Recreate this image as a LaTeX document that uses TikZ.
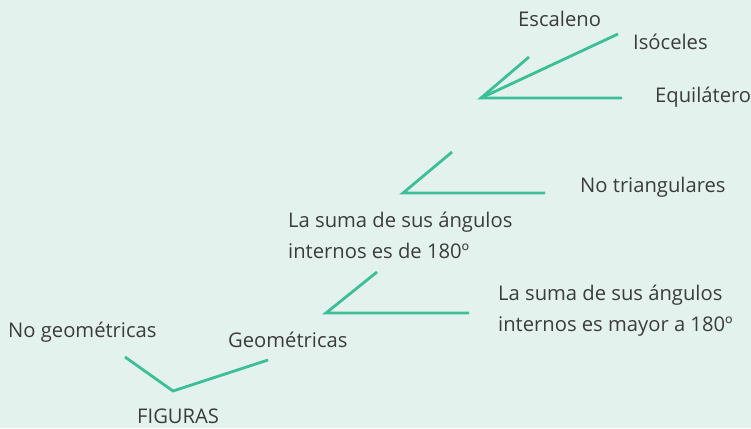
\documentclass[tikz,border=0pt]{standalone}
\usepackage{fontspec}
\setmainfont{Open Sans}
\definecolor{bgc}{RGB}{228,242,237}
\definecolor{linec}{RGB}{60,190,150}
\definecolor{txtc}{RGB}{60,60,60}
\begin{document}
\begin{tikzpicture}[x=1pt,y=-1pt,
  lbl/.style={anchor=base west,inner sep=0pt,text=txtc,font=\fontsize{20.2}{31.5}\selectfont,align=left},
  branch/.style={draw=linec,line width=2.8pt}]
\fill[bgc] (0,0) rectangle (751,428);
\useasboundingbox (0,0) rectangle (751,428);
% coordinates of branches
\coordinate (v1) at (481,98);
\coordinate (e1) at (529,57);
\coordinate (i1) at (618,34);
\coordinate (q1) at (622,98);
\coordinate (v2) at (403,193);
\coordinate (u2) at (452,152);
\coordinate (r2) at (545,193);
\coordinate (v3) at (326,313);
\coordinate (u3) at (377,272);
\coordinate (r3) at (469,313);
\coordinate (l4) at (125,357);
\coordinate (v4) at (173,391);
\coordinate (r4) at (268,360);
\draw[branch] (e1) -- (v1) -- (q1);
\draw[branch] (v1) -- (i1);
\draw[branch] (u2) -- (v2) -- (r2);
\draw[branch] (u3) -- (v3) -- (r3);
\draw[branch] (l4) -- (v4) -- (r4);
% labels
\node[lbl] (esc) at (518,27) {Escaleno};
\node[lbl] (iso) at (633,49) {Isóceles};
\node[lbl] (equ) at (655,102) {Equilátero};
\node[lbl] (notri) at (580,192) {No triangulares};
\node[lbl] (s180) at (288,258.5) {La suma de sus ángulos\\internos es de 180º};
\node[lbl] (smay) at (498,331.5) {La suma de sus ángulos\\internos es mayor a 180º};
\node[lbl] (nogeo) at (8,337) {No geométricas};
\node[lbl] (geo) at (228,347) {Geométricas};
\node[lbl] (fig) at (137,423) {FIGURAS};
\end{tikzpicture}
\end{document}
